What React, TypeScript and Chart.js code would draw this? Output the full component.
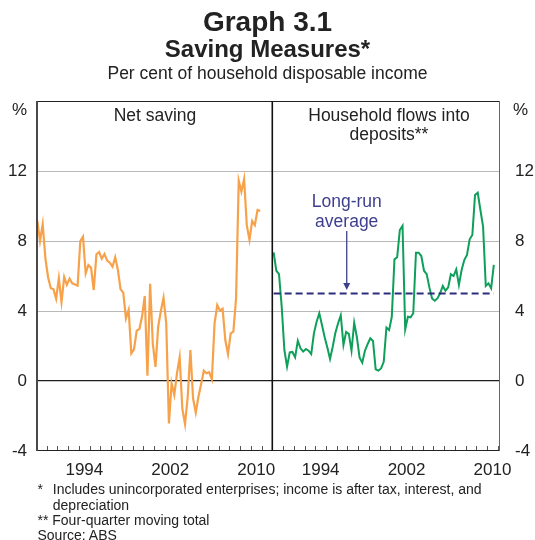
import React, { useEffect, useRef } from "react";
import { Chart, registerables } from "chart.js";

Chart.register(...registerables);

// ---------------- data ----------------
const START_YEAR = 1990; // first quarter of both series (Mar 1990)
const LEFT_PANEL_YEARS = 22; // 1990 – 2012
const RIGHT_PANEL_YEARS = 21.2; // 1990 – early 2011

// Net saving, per cent of household disposable income (quarterly)
const NET_SAVING = [
  9.15, 8.0, 8.97, 7.0, 5.93, 5.3, 5.25, 4.7, 5.87, 4.52,
  5.94, 5.5, 5.85, 5.58, 5.52, 5.45, 8.0, 8.25, 6.15, 6.63,
  6.47, 5.2, 7.24, 7.37, 6.99, 7.26, 6.88, 6.76, 6.53, 7.07,
  6.34, 5.24, 5.05, 3.58, 4.06, 1.58, 1.81, 2.88, 2.97, 3.68,
  4.86, 0.3, 5.56, 2.15, 0.8, 3.1, 4.0, 4.76, 3.3, -2.42,
  -0.13, -0.8, 0.44, 1.35, -1.6, -2.47, -0.9, 1.77, -1.0, -1.8,
  -0.9, -0.17, 0.59, 0.44, 0.5, 0.1, 3.3, 4.34, 4.02, 4.13,
  2.34, 1.54, 2.72, 2.82, 4.7, 11.45, 10.82, 11.54, 8.91, 8.06,
  9.14, 8.91, 9.77, 9.71,
];

// Household flows into deposits, four-quarter moving total (quarterly)
const DEPOSIT_FLOWS = [
  7.35, 6.3, 6.11, 4.25, 1.77, 0.82, 1.64, 1.66, 1.35, 2.3,
  1.87, 1.68, 1.83, 1.73, 1.54, 2.72, 3.39, 3.87, 3.2, 2.5,
  1.92, 1.26, 1.96, 2.76, 3.3, 3.75, 2.06, 2.8, 2.69, 1.73,
  3.33, 2.5, 1.35, 1.05, 1.73, 2.11, 2.44, 2.29, 0.67, 0.59,
  0.72, 1.1, 3.05, 2.91, 3.67, 6.95, 7.07, 8.63, 8.87, 2.95,
  3.67, 3.64, 3.87, 7.33, 7.33, 7.14, 6.3, 6.11, 5.35, 4.72,
  4.59, 4.72, 5.01, 5.43, 5.16, 5.35, 6.1, 6.0, 6.38, 5.49,
  6.34, 6.91, 7.2, 8.1, 8.34, 10.63, 10.76, 9.77, 8.82, 5.43,
  5.58, 5.3, 6.63,
];

const LONG_RUN_AVERAGE = 5.0;
const X_LABEL_YEARS = [1994, 2002, 2010];
const Y_MIN = -4;
const Y_MAX = 16;
const Y_STEP = 4;

// annotation ("Long-run average" with arrow)
const ANNOT_YEAR = 1996.93;
const ANNOT_LINES = ["Long-run", "average"];
const ANNOT_TEXT_VALUES = [10.22, 9.08];
const ANNOT_ARROW_FROM = 8.57;
const ANNOT_ARROW_TO = 5.2;

// ---------------- helpers ----------------
const FONT = '"Liberation Sans", Arial, Helvetica, sans-serif';
const TEXT = "#222222";
const ORANGE = "#F7A24A";
const GREEN = "#0E9F5A";
const NAVY = "#2C2D7C";
const ANNOT = "#3D3F8E";

const quarterDate = (i: number) => START_YEAR + (i + 0.5) / 4;
const leftU = (year: number) => year - START_YEAR;
const rightU = (year: number) => LEFT_PANEL_YEARS + year - START_YEAR;

const X_LABEL_POS = [
  ...X_LABEL_YEARS.map((y) => leftU(y) + 0.5),
  ...X_LABEL_YEARS.map((y) => rightU(y) + 0.5),
];
const X_LABEL_TEXT = [...X_LABEL_YEARS, ...X_LABEL_YEARS].map(String);

const CANVAS_W = 535;
const CANVAS_H = 490;
const AREA_TOP = 101;
const AREA_BOTTOM = 451;

const framePlugin = {
  id: "frame",
  beforeDatasetsDraw(chart: any) {
    const { ctx, chartArea } = chart;
    const xs = chart.scales.x;
    const { bottom } = chartArea;
    ctx.save();
    // small year ticks along the bottom, pointing inwards
    ctx.strokeStyle = "#555";
    ctx.lineWidth = 1;
    const tickYears: number[] = [];
    for (let k = 1; k < LEFT_PANEL_YEARS; k++) tickYears.push(k);
    for (let k = LEFT_PANEL_YEARS + 1; k <= LEFT_PANEL_YEARS + RIGHT_PANEL_YEARS; k++) tickYears.push(k);
    tickYears.forEach((u) => {
      const px = Math.round(xs.getPixelForValue(u)) + 0.5;
      ctx.beginPath();
      ctx.moveTo(px, bottom);
      ctx.lineTo(px, bottom - 5);
      ctx.stroke();
    });
    ctx.restore();
  },
  afterDatasetsDraw(chart: any) {
    const { ctx, chartArea } = chart;
    const xs = chart.scales.x;
    const ys = chart.scales.y;
    const { left, right, top, bottom } = chartArea;
    ctx.save();
    // box
    ctx.strokeStyle = "#222";
    ctx.lineWidth = 1;
    ctx.beginPath();
    ctx.moveTo(left, top + 0.5);
    ctx.lineTo(right, top + 0.5);
    ctx.moveTo(left, bottom - 0.5);
    ctx.lineTo(right, bottom - 0.5);
    ctx.stroke();
    ctx.strokeStyle = "#666";
    ctx.beginPath();
    ctx.moveTo(right - 0.5, top);
    ctx.lineTo(right - 0.5, bottom);
    ctx.stroke();
    ctx.strokeStyle = "#4a4a4a";
    ctx.lineWidth = 2;
    ctx.beginPath();
    ctx.moveTo(left + 1, top);
    ctx.lineTo(left + 1, bottom);
    ctx.stroke();
    // panel divider
    const dx = xs.getPixelForValue(LEFT_PANEL_YEARS);
    ctx.strokeStyle = "#111";
    ctx.lineWidth = 1.6;
    ctx.beginPath();
    ctx.moveTo(dx, top);
    ctx.lineTo(dx, bottom);
    ctx.stroke();

    // annotation
    const ax = xs.getPixelForValue(rightU(ANNOT_YEAR));
    const ay0 = ys.getPixelForValue(ANNOT_ARROW_FROM);
    const ay1 = ys.getPixelForValue(ANNOT_ARROW_TO);
    ctx.strokeStyle = ANNOT;
    ctx.fillStyle = ANNOT;
    ctx.lineWidth = 1.3;
    ctx.beginPath();
    ctx.moveTo(ax, ay0);
    ctx.lineTo(ax, ay1 - 6);
    ctx.stroke();
    ctx.beginPath();
    ctx.moveTo(ax - 3.5, ay1 - 7);
    ctx.lineTo(ax + 3.5, ay1 - 7);
    ctx.lineTo(ax, ay1);
    ctx.closePath();
    ctx.fill();
    ctx.font = `17.5px ${FONT}`;
    ctx.textAlign = "center";
    ctx.textBaseline = "middle";
    ANNOT_LINES.forEach((t, i) => {
      ctx.fillText(t, ax, ys.getPixelForValue(ANNOT_TEXT_VALUES[i]));
    });
    ctx.restore();
  },
};

function Txt(props: {
  x: number;
  baseline: number;
  size: number;
  bold?: boolean;
  align?: "left" | "center" | "right";
  children: React.ReactNode;
}) {
  const { x, baseline, size, bold, align = "left", children } = props;
  const top = baseline - 0.8465 * size;
  const style: React.CSSProperties = {
    position: "absolute",
    top,
    fontSize: size,
    lineHeight: `${size}px`,
    fontWeight: bold ? 700 : 400,
    whiteSpace: "nowrap",
    color: TEXT,
  };
  if (align === "left") {
    style.left = x;
  } else if (align === "center") {
    style.left = x - 300;
    style.width = 600;
    style.textAlign = "center";
  } else {
    style.left = x - 300;
    style.width = 300;
    style.textAlign = "right";
  }
  return <div style={style}>{children}</div>;
}

export default function App() {
  const ref = useRef<HTMLCanvasElement>(null);

  useEffect(() => {
    if (!ref.current) return;
    Chart.defaults.font.family = FONT;
    const netData = NET_SAVING.map((v, i) => ({ x: leftU(quarterDate(i)), y: v }));
    const depData = DEPOSIT_FLOWS.map((v, i) => ({ x: rightU(quarterDate(i)), y: v }));
    const avgData = [
      { x: rightU(quarterDate(0)), y: LONG_RUN_AVERAGE },
      { x: rightU(quarterDate(DEPOSIT_FLOWS.length - 1)), y: LONG_RUN_AVERAGE },
    ];

    const chart = new Chart(ref.current, {
      type: "line",
      data: {
        datasets: [
          {
            label: "Long-run average",
            data: avgData,
            borderColor: NAVY,
            borderWidth: 2,
            borderDash: [7, 4],
            pointRadius: 0,
          },
          {
            label: "Household flows into deposits",
            data: depData,
            borderColor: GREEN,
            borderWidth: 2,
            pointRadius: 0,
          },
          {
            label: "Net saving",
            data: netData,
            borderColor: ORANGE,
            borderWidth: 2.2,
            pointRadius: 0,
          },
        ],
      },
      options: {
        animation: false,
        responsive: false,
        maintainAspectRatio: false,
        layout: { padding: { top: AREA_TOP, left: 0, right: 0, bottom: 0 } },
        plugins: {
          legend: { display: false },
          tooltip: { enabled: false },
          title: { display: false },
        },
        elements: { line: { tension: 0 }, point: { radius: 0 } },
        scales: {
          x: {
            type: "linear",
            min: 0,
            max: LEFT_PANEL_YEARS + RIGHT_PANEL_YEARS,
            grid: { display: false, drawTicks: false },
            border: { display: false },
            afterBuildTicks: (scale: any) => {
              scale.ticks = X_LABEL_POS.map((v) => ({ value: v }));
            },
            afterFit: (scale: any) => {
              scale.height = CANVAS_H - AREA_BOTTOM;
            },
            ticks: {
              autoSkip: false,
              maxRotation: 0,
              minRotation: 0,
              padding: 9.5,
              color: TEXT,
              font: { family: FONT, size: 17 },
              callback: (_v: any, i: number) => X_LABEL_TEXT[i],
            },
          },
          y: {
            position: "left",
            min: Y_MIN,
            max: Y_MAX,
            border: { display: false },
            grid: {
              drawTicks: false,
              color: (ctx: any) => {
                const v = ctx.tick && ctx.tick.value;
                if (v === 0) return "#1e1e1e";
                if (v === Y_MIN || v === Y_MAX) return "rgba(0,0,0,0)";
                return "#b9b9b9";
              },
              lineWidth: (ctx: any) => (ctx.tick && ctx.tick.value === 0 ? 1.3 : 1),
            },
            afterFit: (scale: any) => {
              scale.width = 36;
            },
            ticks: {
              stepSize: Y_STEP,
              padding: 9,
              color: TEXT,
              font: { family: FONT, size: 17 },
              callback: (v: any) => (v === Y_MAX ? "" : String(v)),
            },
          },
          y2: {
            position: "right",
            min: Y_MIN,
            max: Y_MAX,
            border: { display: false },
            grid: { display: false, drawTicks: false },
            afterFit: (scale: any) => {
              scale.width = CANVAS_W - 500;
            },
            ticks: {
              stepSize: Y_STEP,
              padding: 15,
              color: TEXT,
              font: { family: FONT, size: 17 },
              callback: (v: any) => (v === Y_MAX ? "" : String(v)),
            },
          },
        },
      },
      plugins: [framePlugin],
    } as any);

    return () => chart.destroy();
  }, []);

  return (
    <div
      style={{
        position: "absolute",
        left: 0,
        top: 0,
        width: CANVAS_W,
        height: 540,
        background: "#fff",
        fontFamily: FONT,
        overflow: "hidden",
      }}
    >
      <canvas
        ref={ref}
        width={CANVAS_W}
        height={CANVAS_H}
        style={{ position: "absolute", left: 0, top: 0, width: CANVAS_W, height: CANVAS_H }}
      />
      <Txt x={267.5} baseline={32} size={28} bold align="center">Graph 3.1</Txt>
      <Txt x={267.5} baseline={57} size={24} bold align="center">Saving Measures*</Txt>
      <Txt x={267.5} baseline={79.5} size={17.5} align="center">Per cent of household disposable income</Txt>
      <Txt x={27} baseline={115} size={17} align="right">%</Txt>
      <Txt x={513} baseline={115} size={17} align="left">%</Txt>
      <Txt x={155} baseline={122} size={17.5} align="center">Net saving</Txt>
      <Txt x={389} baseline={122} size={17.5} align="center">Household flows into</Txt>
      <Txt x={389} baseline={141} size={17.5} align="center">deposits**</Txt>
      <Txt x={37.5} baseline={494} size={14}>*</Txt>
      <Txt x={52.8} baseline={494} size={14}>Includes unincorporated enterprises; income is after tax, interest, and</Txt>
      <Txt x={52.8} baseline={509.5} size={14}>depreciation</Txt>
      <Txt x={37.5} baseline={525} size={14}>** Four-quarter moving total</Txt>
      <Txt x={37.5} baseline={539.5} size={14}>Source: ABS</Txt>
    </div>
  );
}
